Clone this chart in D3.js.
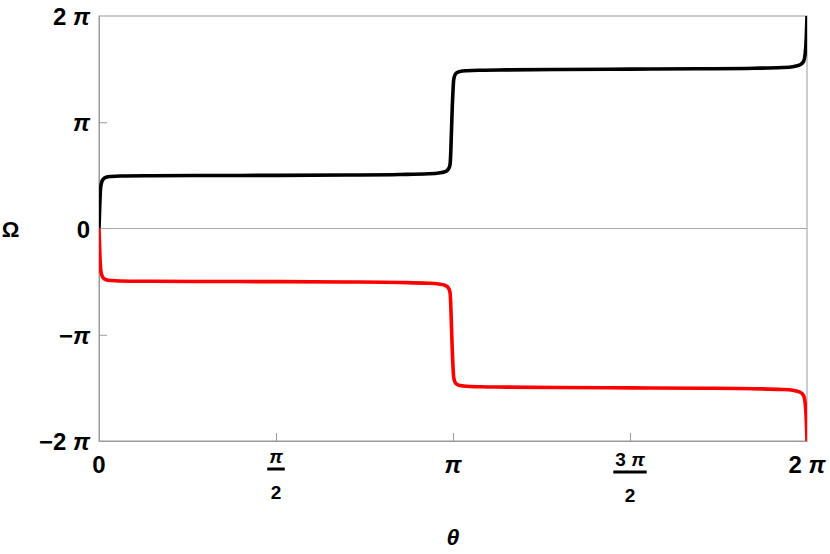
<!DOCTYPE html>
<html lang="en">
<head>
  <meta charset="UTF-8">
  <title>Omega vs theta</title>
  <script src="https://d3js.org/d3.v7.min.js"></script>
  <style>
    body { margin: 0; background: #fff; }
    text { font-family: "Liberation Sans", Arial, sans-serif; font-weight: bold; fill: #000; }
  </style>
</head>
<body>
  <div id="chart"></div>
  <script>
    // values are in units of pi: [theta/pi, Omega/pi]
    const upperBranch = [
      [0, 0], [0.002, 0.2], [0.004, 0.36], [0.007, 0.43], [0.012, 0.465], [0.02, 0.482],
      [0.035, 0.49], [0.06, 0.494], [0.15, 0.497], [0.3, 0.499], [0.5, 0.5], [0.7, 0.503],
      [0.85, 0.508], [0.93, 0.515], [0.96, 0.523], [0.975, 0.532], [0.983, 0.545], [0.988, 0.565],
      [0.9915, 0.6], [0.9935, 0.7], [0.995, 0.85], [0.9965, 1.0], [0.998, 1.15], [1.0, 1.3],
      [1.002, 1.4], [1.005, 1.44], [1.01, 1.465], [1.02, 1.478], [1.04, 1.485], [1.08, 1.49],
      [1.15, 1.493], [1.3, 1.497], [1.5, 1.5], [1.7, 1.503], [1.85, 1.508], [1.93, 1.515],
      [1.96, 1.523], [1.98, 1.54], [1.99, 1.57], [1.995, 1.65], [1.998, 1.8], [2.0, 2.0]
    ];
    const lowerBranch = [
      [0, 0], [0.002, -0.2], [0.004, -0.36], [0.007, -0.43], [0.012, -0.465], [0.02, -0.482],
      [0.035, -0.49], [0.06, -0.494], [0.15, -0.497], [0.3, -0.499], [0.5, -0.5], [0.7, -0.503],
      [0.85, -0.508], [0.93, -0.515], [0.96, -0.523], [0.975, -0.532], [0.983, -0.545], [0.988, -0.565],
      [0.9915, -0.6], [0.9935, -0.7], [0.995, -0.85], [0.9965, -1.0], [0.998, -1.15], [1.0, -1.3],
      [1.002, -1.4], [1.005, -1.44], [1.01, -1.465], [1.02, -1.478], [1.04, -1.485], [1.08, -1.49],
      [1.15, -1.493], [1.3, -1.497], [1.5, -1.5], [1.7, -1.503], [1.85, -1.508], [1.93, -1.515],
      [1.96, -1.523], [1.98, -1.54], [1.99, -1.57], [1.995, -1.65], [1.998, -1.8], [2.0, -2.0]
    ];

    const yTicks = [-2, -1, 0, 1, 2];
    const yTickLabels = ["\u22122 \u03c0", "\u2212\u03c0", "0", "\u03c0", "2 \u03c0"];
    const xTicks = [0, 0.5, 1, 1.5, 2];
    const xTickLabels = [
      { text: "0" }, { num: "\u03c0", den: "2" }, { text: "\u03c0" },
      { num: "3 \u03c0", den: "2" }, { text: "2 \u03c0" }
    ];

    const width = 830, height = 554;
    const margin = { top: 16, right: 23, bottom: 113, left: 99 };

    const svg = d3.select("#chart").append("svg")
      .attr("width", width)
      .attr("height", height);

    const x = d3.scaleLinear().domain([0, 2]).range([margin.left, width - margin.right]);
    const y = d3.scaleLinear().domain([-2, 2]).range([height - margin.bottom, margin.top]);

    // writes a label, with every pi slanted like the original
    function piText(sel, str) {
      str.split(/(\u03c0)/).filter(s => s.length).forEach(part => {
        const ts = sel.append("tspan").text(part);
        if (part === "\u03c0") ts.attr("font-style", "italic");
      });
      return sel;
    }

    // frame
    svg.append("rect")
      .attr("x", x(0)).attr("y", y(2))
      .attr("width", x(2) - x(0)).attr("height", y(-2) - y(2))
      .attr("fill", "none").attr("stroke", "#999").attr("stroke-width", 1);

    // zero line
    svg.append("line")
      .attr("x1", x(0)).attr("x2", x(2))
      .attr("y1", y(0)).attr("y2", y(0))
      .attr("stroke", "#aaa").attr("stroke-width", 1);

    // ticks
    const yAxis = svg.append("g")
      .attr("transform", `translate(${x(0)},0)`)
      .call(d3.axisLeft(y).tickValues(yTicks.filter(d => Math.abs(d) === 1)).tickSize(-8).tickSizeOuter(0).tickFormat(""));
    const xAxis = svg.append("g")
      .attr("transform", `translate(0,${y(-2)})`)
      .call(d3.axisBottom(x).tickValues(xTicks.filter(d => d > 0 && d < 2)).tickSize(-8).tickSizeOuter(0).tickFormat(""));
    [yAxis, xAxis].forEach(g => {
      g.select(".domain").attr("stroke", "#999");
      g.selectAll(".tick line").attr("stroke", "#999");
    });

    // y tick labels
    yTicks.forEach((t, i) => {
      const el = svg.append("text")
        .attr("x", x(0) - 9)
        .attr("y", y(t) + 9)
        .attr("text-anchor", "end")
        .attr("font-size", "24px");
      piText(el, yTickLabels[i]);
    });

    // x tick labels
    xTicks.forEach((t, i) => {
      const lab = xTickLabels[i];
      const cx = x(t);
      if (lab.text) {
        const el = svg.append("text")
          .attr("x", cx).attr("y", 473)
          .attr("text-anchor", "middle")
          .attr("font-size", "24px");
        piText(el, lab.text);
      } else {
        const barY = lab.num.length > 1 ? 472 : 469;
        const num = svg.append("text")
          .attr("x", cx).attr("y", barY - 6)
          .attr("text-anchor", "middle")
          .attr("font-size", "19px");
        piText(num, lab.num);
        svg.append("text")
          .attr("x", cx).attr("y", barY + 30)
          .attr("text-anchor", "middle")
          .attr("font-size", "19px")
          .text(lab.den);
        const w = num.node().getComputedTextLength() + 4;
        svg.append("line")
          .attr("x1", cx - w / 2).attr("x2", cx + w / 2)
          .attr("y1", barY).attr("y2", barY)
          .attr("stroke", "#000").attr("stroke-width", 3);
      }
    });

    // axis titles
    svg.append("text")
      .attr("x", 10.5).attr("y", 237)
      .attr("text-anchor", "middle")
      .attr("font-size", "22px")
      .text("\u03a9");
    svg.append("text")
      .attr("x", x(1)).attr("y", 545)
      .attr("text-anchor", "middle")
      .attr("font-size", "23px")
      .attr("font-style", "italic")
      .text("\u03b8");

    // curves
    svg.append("clipPath").attr("id", "plotClip")
      .append("rect")
      .attr("x", x(0)).attr("y", y(2))
      .attr("width", x(2) - x(0)).attr("height", y(-2) - y(2));

    const line = d3.line()
      .x(d => x(d[0]))
      .y(d => y(d[1]))
      .curve(d3.curveMonotoneX);

    const curves = svg.append("g").attr("clip-path", "url(#plotClip)");
    curves.append("path")
      .datum(upperBranch)
      .attr("d", line)
      .attr("fill", "none")
      .attr("stroke", "#000")
      .attr("stroke-width", 3.6)
      .attr("stroke-linejoin", "round");
    curves.append("path")
      .datum(lowerBranch)
      .attr("d", line)
      .attr("fill", "none")
      .attr("stroke", "#ff0000")
      .attr("stroke-width", 3.6)
      .attr("stroke-linejoin", "round");
  </script>
</body>
</html>
